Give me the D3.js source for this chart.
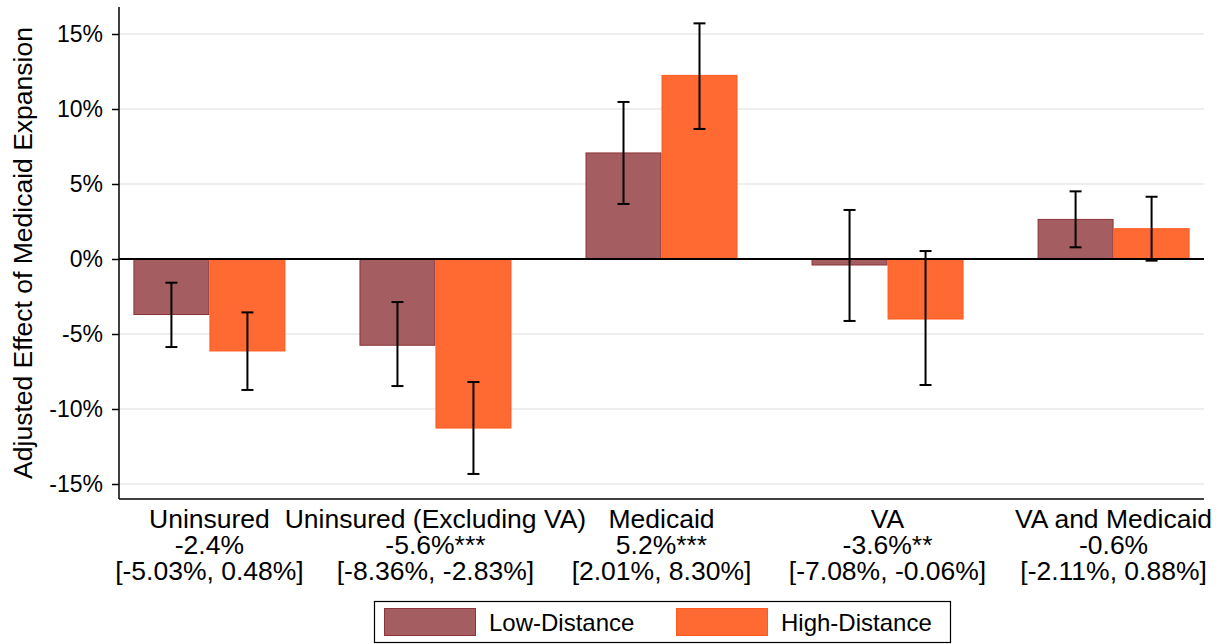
<!DOCTYPE html>
<html><head><meta charset="utf-8">
<script src="https://cdn.jsdelivr.net/npm/d3@7"></script>
<style>body{margin:0;background:#fff}svg{display:block;font-family:"Liberation Sans",Arial,sans-serif}</style>
</head><body><svg id="c" width="1221" height="644"></svg>
<script>
const categories = ["Uninsured", "Uninsured (Excluding VA)", "Medicaid", "VA", "VA and Medicaid"];
const effectLabels = ["-2.4%", "-5.6%***", "5.2%***", "-3.6%**", "-0.6%"];
const ciLabels = ["[-5.03%, 0.48%]", "[-8.36%, -2.83%]", "[2.01%, 8.30%]", "[-7.08%, -0.06%]", "[-2.11%, 0.88%]"];
const seriesNames = ["Low-Distance", "High-Distance"];
const lowValues = [-3.7, -5.75, 7.07, -0.4, 2.64];
const lowLower = [-5.87, -8.47, 3.67, -4.13, 0.78];
const lowUpper = [-1.58, -2.87, 10.47, 3.27, 4.51];
const highValues = [-6.13, -11.27, 12.24, -4.0, 2.02];
const highLower = [-8.73, -14.33, 8.67, -8.4, -0.11];
const highUpper = [-3.56, -8.2, 15.71, 0.53, 4.15];
const yTicks = [-15, -10, -5, 0, 5, 10, 15];

const svg = d3.select("#c");
const L = 119, R = 1204, T = 7, B = 499;
const y = d3.scaleLinear().domain([-16, 16.8]).range([B, T]);
const x = d3.scalePoint().domain(categories).range([L, R]).padding(0.4);
const inner = d3.scaleBand().domain(seriesNames).range([-76, 76]).padding(0);
const fills = ["#a45d60", "#ff6a33"];
const strokes = ["#8c3439", "#ff5a1c"];

svg.append("g").selectAll("line").data(yTicks).join("line")
  .attr("x1", L).attr("x2", R).attr("y1", d => y(d)).attr("y2", d => y(d))
  .attr("stroke", "#e8e8e8").attr("stroke-width", 1.5);

const data = [];
categories.forEach((c, i) => {
  data.push({c, s: 0, v: lowValues[i], lo: lowLower[i], hi: lowUpper[i]});
  data.push({c, s: 1, v: highValues[i], lo: highLower[i], hi: highUpper[i]});
});

svg.append("g").selectAll("rect").data(data).join("rect")
  .attr("x", d => x(d.c) + inner(seriesNames[d.s]) + 0.5)
  .attr("width", inner.bandwidth() - 1)
  .attr("y", d => Math.min(y(d.v), y(0)))
  .attr("height", d => Math.abs(y(d.v) - y(0)))
  .attr("fill", d => fills[d.s]).attr("stroke", d => strokes[d.s]).attr("stroke-width", 1);

svg.append("line").attr("x1", L).attr("x2", R).attr("y1", y(0)).attr("y2", y(0))
  .attr("stroke", "#000").attr("stroke-width", 2);

const eb = svg.append("g").attr("stroke", "#000").attr("stroke-width", 2);
data.forEach(d => {
  const cx = x(d.c) + inner(seriesNames[d.s]) + inner.bandwidth() / 2;
  eb.append("line").attr("x1", cx).attr("x2", cx).attr("y1", y(d.lo)).attr("y2", y(d.hi));
  eb.append("line").attr("x1", cx - 6).attr("x2", cx + 6).attr("y1", y(d.lo)).attr("y2", y(d.lo));
  eb.append("line").attr("x1", cx - 6).attr("x2", cx + 6).attr("y1", y(d.hi)).attr("y2", y(d.hi));
});

const yAxis = d3.axisLeft(y).tickValues(yTicks).tickFormat(d => d + "%").tickSize(7).tickPadding(9);
const ya = svg.append("g").attr("transform", `translate(${L},0)`).call(yAxis);
ya.select(".domain").attr("stroke", "#000").attr("stroke-width", 1.5).attr("d", `M0,${T}V${B}`);
ya.selectAll(".tick line").attr("stroke", "#000").attr("stroke-width", 1.5);
ya.selectAll(".tick text").attr("font-size", 23).attr("fill", "#000").attr("font-family", "Liberation Sans, Arial, sans-serif");

svg.append("line").attr("x1", L).attr("x2", R).attr("y1", B).attr("y2", B).attr("stroke", "#000").attr("stroke-width", 1.5);

const cl = svg.append("g").attr("font-size", 26.5).attr("fill", "#000").attr("text-anchor", "middle");
const lines = [categories, effectLabels, ciLabels];
const lineY = [528, 554, 580];
lines.forEach((arr, k) => {
  cl.append("g").selectAll("text").data(arr).join("text")
    .attr("x", (d, i) => x(categories[i])).attr("y", lineY[k]).text(d => d);
});

svg.append("text").attr("transform", `translate(32,${(T + B) / 2}) rotate(-90)`)
  .attr("text-anchor", "middle").attr("font-size", 26.5).attr("fill", "#000")
  .text("Adjusted Effect of Medicaid Expansion");

const lg = svg.append("g");
lg.append("rect").attr("x", 374.5).attr("y", 601.5).attr("width", 576).attr("height", 41)
  .attr("fill", "#fff").attr("stroke", "#000").attr("stroke-width", 1.2);
const legX = [384, 676];
seriesNames.forEach((s, i) => {
  lg.append("rect").attr("x", legX[i] + 0.5).attr("y", 608.5).attr("width", 91).attr("height", 27)
    .attr("fill", fills[i]).attr("stroke", strokes[i]);
  lg.append("text").attr("x", legX[i] + 105).attr("y", 631).attr("font-size", 24).attr("fill", "#000").text(s);
});
</script></body></html>
